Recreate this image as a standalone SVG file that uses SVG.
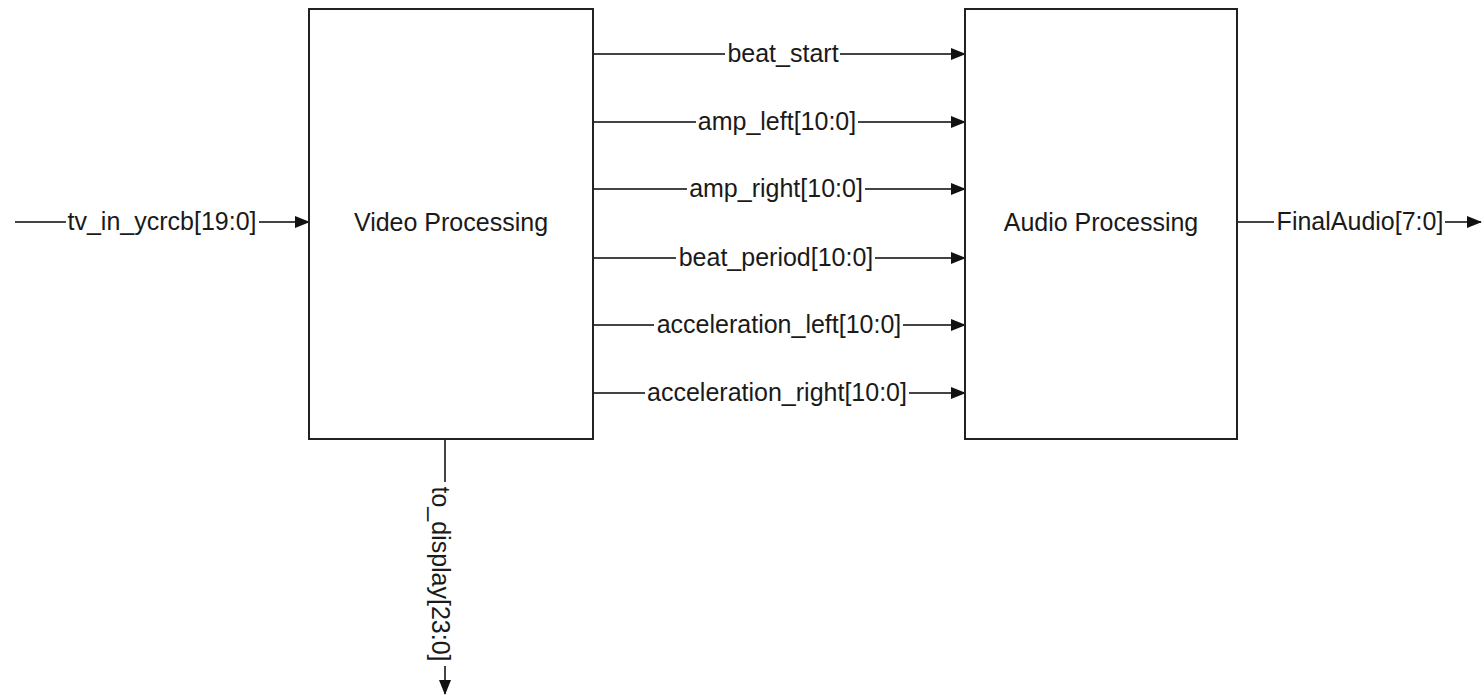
<svg xmlns="http://www.w3.org/2000/svg" width="1482" height="697" viewBox="0 0 1482 697">
<defs>
<marker id="arr" markerWidth="15" markerHeight="12" refX="14" refY="6" orient="auto" markerUnits="userSpaceOnUse">
<path d="M0,0 L15,6 L0,12 Z" fill="#111"/>
</marker>
<style>
.box{fill:#fff;stroke:#222;stroke-width:2}
.wire{fill:none;stroke:#444;stroke-width:2}
.lbl{font-family:"Liberation Sans",Arial,sans-serif;font-size:25px;fill:#1a1a1a;text-anchor:middle}
.bg{fill:#fff}
</style>
</defs>
<rect width="1482" height="697" fill="#fff"/>
<g id="connectors">
<line class="wire" x1="15" y1="222" x2="309" y2="222" marker-end="url(#arr)"/>
<line class="wire" x1="593" y1="54" x2="965" y2="54" marker-end="url(#arr)"/>
<line class="wire" x1="593" y1="122" x2="965" y2="122" marker-end="url(#arr)"/>
<line class="wire" x1="593" y1="189" x2="965" y2="189" marker-end="url(#arr)"/>
<line class="wire" x1="593" y1="258" x2="965" y2="258" marker-end="url(#arr)"/>
<line class="wire" x1="593" y1="325" x2="965" y2="325" marker-end="url(#arr)"/>
<line class="wire" x1="593" y1="393" x2="965" y2="393" marker-end="url(#arr)"/>
<line class="wire" x1="1237" y1="222" x2="1481" y2="222" marker-end="url(#arr)"/>
<line class="wire" x1="445" y1="439" x2="445" y2="694" marker-end="url(#arr)"/>
<rect class="bg" x="66" y="210" width="193" height="24"/>
<text class="lbl" x="162" y="230">tv_in_ycrcb[19:0]</text>
<rect class="bg" x="725" y="42" width="115" height="24"/>
<text class="lbl" x="783" y="62">beat_start</text>
<rect class="bg" x="696" y="110" width="162" height="24"/>
<text class="lbl" x="777" y="130">amp_left[10:0]</text>
<rect class="bg" x="687" y="177" width="178" height="24"/>
<text class="lbl" x="776" y="197">amp_right[10:0]</text>
<rect class="bg" x="676" y="246" width="199" height="24"/>
<text class="lbl" x="776" y="266">beat_period[10:0]</text>
<rect class="bg" x="654" y="313" width="249" height="24"/>
<text class="lbl" x="779" y="333">acceleration_left[10:0]</text>
<rect class="bg" x="645" y="381" width="264" height="24"/>
<text class="lbl" x="777" y="401">acceleration_right[10:0]</text>
<rect class="bg" x="1274" y="210" width="171" height="24"/>
<text class="lbl" x="1360" y="230">FinalAudio[7:0]</text>
<rect class="bg" x="424" y="482" width="24" height="184"/>
<text class="lbl" transform="translate(432,574) rotate(90)" x="0" y="0">to_display[23:0]</text>
</g>
<g id="video">
<rect class="box" x="309" y="9" width="284" height="430"/>
<text class="lbl" x="451" y="231">Video Processing</text>
</g>
<g id="audio">
<rect class="box" x="965" y="9" width="272" height="430"/>
<text class="lbl" x="1101" y="231">Audio Processing</text>
</g>
</svg>
